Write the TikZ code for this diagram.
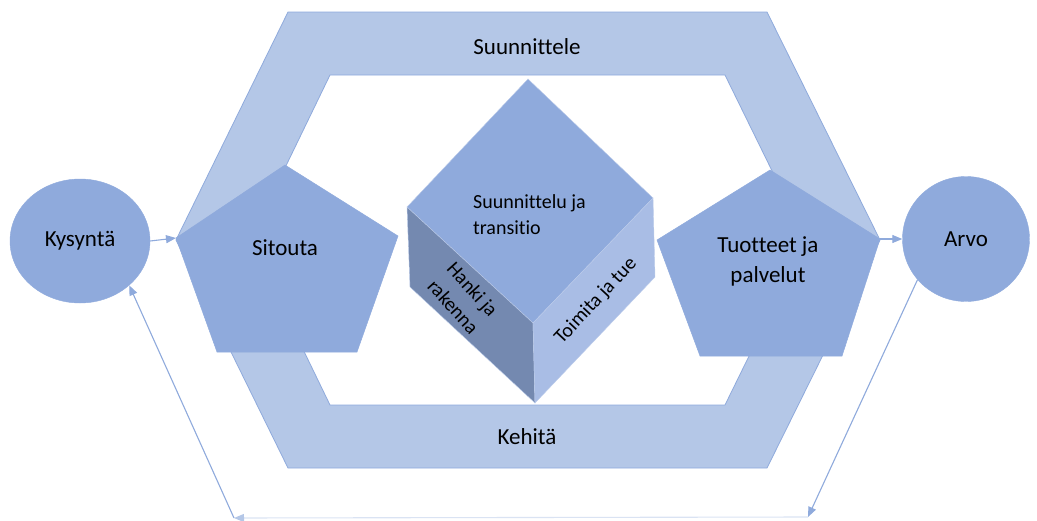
\documentclass[tikz,border=0pt]{standalone}
\usepackage{fontspec}
\setmainfont{Carlito}[Ligatures=NoCommon]
\usetikzlibrary{arrows.meta,shapes.geometric}

\definecolor{bandblue}{HTML}{B4C7E7}
\definecolor{shapeblue}{HTML}{8FAADC}
\definecolor{cubedark}{HTML}{7489B0}
\definecolor{cubelight}{HTML}{A9BDE5}
\definecolor{faintblue}{HTML}{DAE3F3}

\begin{document}
\begin{tikzpicture}[x=1pt,y=-1pt,
  band/.style={fill=bandblue,draw=shapeblue,line width=0.8pt,even odd rule},
  penta/.style={fill=shapeblue,draw=shapeblue,line width=0.5pt},
  face/.style={draw=shapeblue!60!white,line width=0.4pt},
  blob/.style={ellipse,fill=shapeblue,draw=shapeblue,inner sep=0pt},
  lbl/.style={font=\fontsize{23}{30}\selectfont,align=center},
  cubelbl/.style={font=\fontsize{20}{26}\selectfont,align=left,inner sep=1pt},
  arr/.style={-{Triangle[length=10pt,width=8pt]},draw=shapeblue,line width=1.1pt},
]
\useasboundingbox (0,0) rectangle (1037,520);

% Hexagonal band
\path[band] (288,12) -- (767,12) -- (880,240) -- (767,468) -- (288,468) -- (176,240) -- cycle
            (330,75) -- (725,75) -- (806,240) -- (725,405) -- (330,405) -- (250,240) -- cycle;
\node[lbl] (suun) at (527,47) {Suunnittele};
\node[lbl] (keh) at (527,437) {Kehitä};

% Pentagons
\coordinate (sit-w) at (176,238);
\coordinate (tuo-e) at (880,239);
\path[penta] (285,165) -- (398,236) -- (357,352) -- (217,352) -- (sit-w) -- cycle;
\path[penta] (770,170) -- (tuo-e) -- (842,356) -- (700,356) -- (657,240) -- cycle;
\node[lbl] (sit) at (285,248) {Sitouta};
\node[lbl] (tuo) at (768,261) {Tuotteet ja\\palvelut};

% Cube
\path[face,fill=shapeblue] (528,79) -- (653,198) -- (533,323) -- (407,207) -- cycle;
\path[face,fill=cubedark] (407,207) -- (533,323) -- (535,403) -- (410,287) -- cycle;
\path[face,fill=cubelight] (533,323) -- (653,198) -- (655,277) -- (535,403) -- cycle;
\node[cubelbl,anchor=west] (suj) at (472,215) {Suunnittelu ja\\transitio};
\node[cubelbl,align=center,rotate=-48] (han) at (463,298) {Hanki ja\\rakenna};
\node[cubelbl,rotate=47] (toi) at (596,301) {Toimita ja tue};

% Demand and value
\node[blob,lbl,minimum width=140pt,minimum height=124pt] (kys) at (80,241) {Kysyntä};
\node[blob,lbl,minimum width=127pt,minimum height=125pt] (arvo) at (966,239) {Arvo};

% Arrows
\coordinate (loop-r) at (808,517);
\coordinate (loop-l) at (234,518);
\draw[arr] (kys.east) -- (sit-w);
\draw[arr] (tuo-e) -- (arvo.west);
\draw[arr] (arvo.-140) -- (loop-r);
\draw[-{Triangle[length=10pt,width=8pt,color=bandblue]},draw=faintblue,line width=1.1pt] (loop-r) -- (loop-l);
\draw[arr] (loop-l) -- (kys.-42);

\end{tikzpicture}
\end{document}
